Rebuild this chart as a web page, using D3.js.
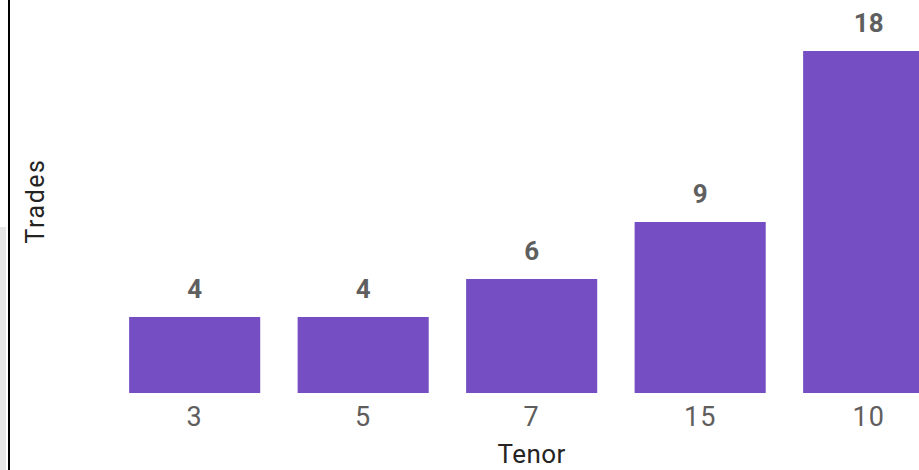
<!DOCTYPE html>
<html>
<head>
<meta charset="utf-8">
<script src="https://cdn.jsdelivr.net/npm/d3@7"></script>
<style>
  body { margin: 0; background: #fff; }
  svg { display: block; font-family: Roboto, "DejaVu Sans", sans-serif; }
</style>
</head>
<body>
<svg></svg>
<script>
    // chart data
    var tenors = ["3", "5", "7", "15", "10"];
    var trades = [4, 4, 6, 9, 18];

    var w = 919, h = 470;
    var baseY = 393;

    var svg = d3.select("svg").attr("width", w).attr("height", h);

    // left edge decoration
    svg.append("rect").attr("x", 0).attr("y", 227).attr("width", 6).attr("height", h - 227).attr("fill", "#e6e6e6");
    svg.append("rect").attr("x", 8).attr("y", 0).attr("width", 2).attr("height", h).attr("fill", "#000");

    // scales
    var x = d3.scaleBand()
        .domain(tenors)
        .range([87, 87 + 168.5 * 5.278])
        .paddingInner(0.222)
        .paddingOuter(0.25);

    var y = d3.scaleLinear()
        .domain([0, 18])
        .range([baseY, 51]);

    // bars
    svg.selectAll("rect.bar")
        .data(trades)
        .enter()
        .append("rect")
        .attr("class", "bar")
        .attr("x", function(d, i) { return x(tenors[i]); })
        .attr("y", function(d) { return y(d); })
        .attr("width", x.bandwidth())
        .attr("height", function(d) { return baseY - y(d); })
        .attr("fill", "#744EC2");

    // value labels
    svg.selectAll("text.val")
        .data(trades)
        .enter()
        .append("text")
        .attr("class", "val")
        .attr("x", function(d, i) { return x(tenors[i]) + x.bandwidth() / 2; })
        .attr("y", function(d) { return y(d) - 19; })
        .attr("text-anchor", "middle")
        .attr("font-size", 26)
        .attr("font-weight", "bold")
        .attr("fill", "#5f5f5f")
        .text(function(d) { return d; });

    // x axis (labels only)
    var xAxis = svg.append("g")
        .attr("transform", "translate(0," + baseY + ")")
        .call(d3.axisBottom(x).tickSize(0).tickPadding(14));
    xAxis.select(".domain").remove();
    xAxis.selectAll("text")
        .attr("font-size", 27)
        .attr("font-family", "Roboto, sans-serif")
        .attr("letter-spacing", 1)
        .attr("fill", "#605E5C");

    // axis titles
    svg.append("text")
        .attr("x", x("7") + x.bandwidth() / 2)
        .attr("y", 463)
        .attr("text-anchor", "middle")
        .attr("font-size", 26)
        .attr("letter-spacing", 0.5)
        .attr("fill", "#252423")
        .text("Tenor");

    svg.append("text")
        .attr("transform", "translate(44,201) rotate(-90)")
        .attr("text-anchor", "middle")
        .attr("font-size", 25)
        .attr("letter-spacing", 1.5)
        .attr("fill", "#252423")
        .text("Trades");
</script>
</body>
</html>
